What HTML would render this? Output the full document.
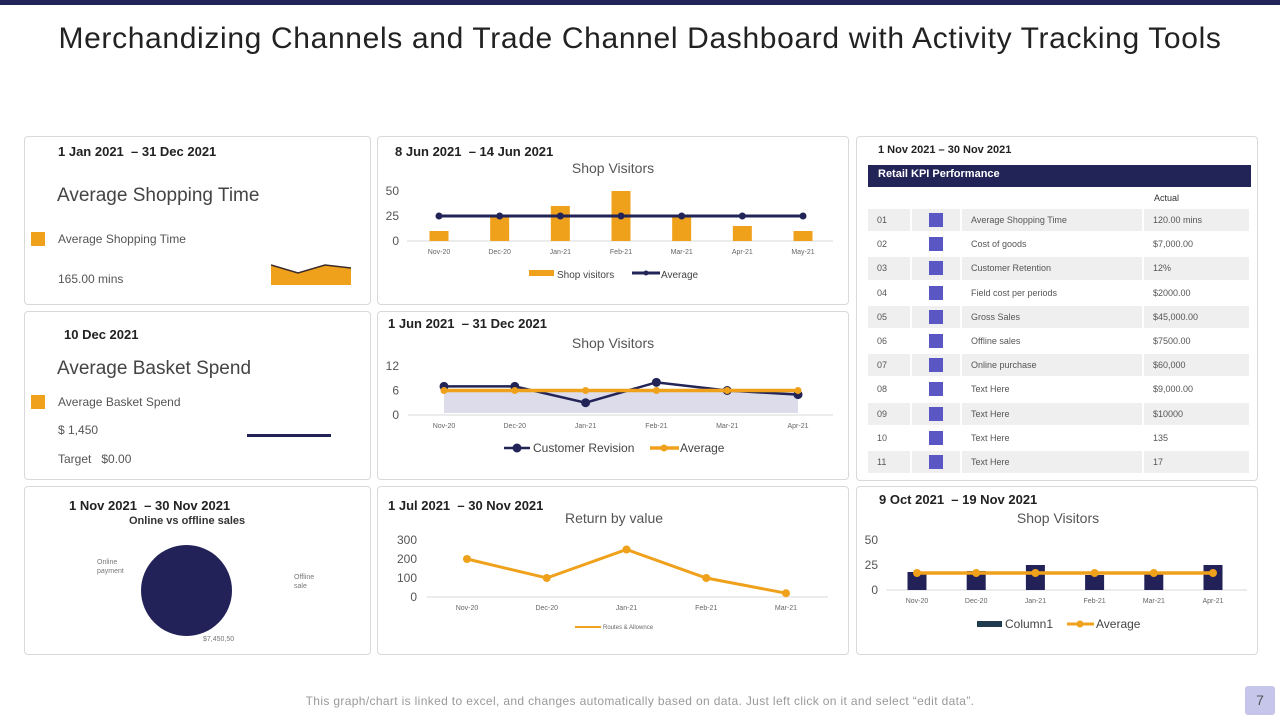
<!DOCTYPE html>
<html><head><meta charset="utf-8">
<style>
*{margin:0;padding:0;box-sizing:border-box}
body{width:1280px;height:720px;position:relative;background:#fff;font-family:"Liberation Sans",sans-serif;overflow:hidden;color:#333}
.abs{position:absolute}
.card{position:absolute;border:1px solid #d9d9d9;border-radius:4px;background:#fff}
.date{position:absolute;font-weight:bold;font-size:13px;color:#222}
.ttl{position:absolute;font-size:14px;color:#555}
table{border-collapse:separate;border-spacing:2px 2px}
</style></head><body>
<div class="abs" style="left:0;top:0;width:1280px;height:5px;background:#222457"></div>
<div class="abs" style="left:0;top:22px;width:1280px;text-align:center;font-size:30px;letter-spacing:0.65px;color:#222">Merchandizing Channels and Trade Channel Dashboard with Activity Tracking Tools</div>

<div class="card" style="left:24px;top:136px;width:347px;height:169px">
 <div class="date" style="left:33px;top:7px">1 Jan 2021 &nbsp;– 31 Dec 2021</div>
 <div class="abs" style="left:32px;top:48px;font-size:19px;color:#444">Average Shopping Time</div>
 <div class="abs" style="left:6px;top:95px;width:14px;height:14px;background:#f0a11b"></div>
 <div class="abs" style="left:33px;top:95px;font-size:12px;color:#555">Average Shopping Time</div>
 <div class="abs" style="left:33px;top:135px;font-size:12px;color:#555">165.00 mins</div>
 <svg class="abs" style="left:246px;top:126px" width="82" height="24"><polygon points="0,2 27,10 54,2 80,5 80,22 0,22" fill="#f0a11b"/><polyline points="0,2 27,10 54,2 80,5" fill="none" stroke="#3a2a2a" stroke-width="1.5"/></svg>
</div>

<div class="card" style="left:24px;top:311px;width:347px;height:169px">
 <div class="date" style="left:39px;top:15px">10 Dec 2021</div>
 <div class="abs" style="left:32px;top:46px;font-size:19px;color:#444">Average Basket Spend</div>
 <div class="abs" style="left:6px;top:83px;width:14px;height:14px;background:#f0a11b"></div>
 <div class="abs" style="left:33px;top:83px;font-size:12px;color:#555">Average Basket Spend</div>
 <div class="abs" style="left:33px;top:111px;font-size:12px;color:#555">$ 1,450</div>
 <div class="abs" style="left:33px;top:140px;font-size:12px;color:#555">Target &nbsp;&nbsp;$0.00</div>
 <div class="abs" style="left:222px;top:122px;width:84px;height:3px;background:#222457"></div>
</div>

<div class="card" style="left:24px;top:486px;width:347px;height:169px">
 <div class="date" style="left:44px;top:11px">1 Nov 2021 &nbsp;– 30 Nov 2021</div>
 <div class="abs" style="left:104px;top:28px;font-size:11px;font-weight:bold;color:#333">Online vs offline sales</div>
 <div class="abs" style="left:72px;top:71px;font-size:7px;color:#777;line-height:9px">Online<br>payment</div>
 <div class="abs" style="left:269px;top:86px;font-size:7px;color:#777;line-height:9px">Offline<br>sale</div>
 <div class="abs" style="left:116px;top:58px;width:91px;height:91px;border-radius:50%;background:#222259"></div>
 <div class="abs" style="left:178px;top:149px;font-size:7px;color:#777">$7,450,50</div>
</div>

<div class="card" style="left:377px;top:136px;width:472px;height:169px">
 <div class="date" style="left:17px;top:7px">8 Jun 2021 &nbsp;– 14 Jun 2021</div>
 <div class="ttl" style="left:0;width:470px;text-align:center;top:23px">Shop Visitors</div>
</div>
<div class="card" style="left:377px;top:311px;width:472px;height:169px">
 <div class="date" style="left:10px;top:4px">1 Jun 2021 &nbsp;– 31 Dec 2021</div>
 <div class="ttl" style="left:0;width:470px;text-align:center;top:23px">Shop Visitors</div>
</div>
<div class="card" style="left:377px;top:486px;width:472px;height:169px">
 <div class="date" style="left:10px;top:11px">1 Jul 2021 &nbsp;– 30 Nov 2021</div>
 <div class="ttl" style="left:0;width:472px;text-align:center;top:23px">Return by value</div>
</div>

<div class="card" style="left:856px;top:136px;width:402px;height:345px">
 <div class="abs" style="left:21px;top:7px;font-size:11px;font-weight:bold;color:#222">1 Nov 2021 – 30 Nov 2021</div>
 <div class="abs" style="left:11px;top:28px;width:383px;height:22px;background:#222457;color:#fff;font-size:11px;font-weight:bold;padding:3px 10px">Retail KPI Performance</div>
 <div class="abs" style="left:297px;top:56px;font-size:9px;color:#333">Actual</div>
 <table class="abs" id="kpi" style="left:9px;top:70px;font-size:9px;color:#555"></table>
</div>

<div class="card" style="left:856px;top:486px;width:402px;height:169px">
 <div class="date" style="left:22px;top:5px">9 Oct 2021 &nbsp;– 19 Nov 2021</div>
 <div class="ttl" style="left:0;width:402px;text-align:center;top:23px">Shop Visitors</div>
</div>

<div class="abs" style="left:0;width:1280px;text-align:center;top:694px;font-size:12px;letter-spacing:0.35px;color:#999">This graph/chart is linked to excel, and changes automatically based on data. Just left click on it and select “edit data”.</div>
<div class="abs" style="left:1245px;top:686px;width:30px;height:29px;background:#c5c6ea;border-radius:3px;text-align:center;line-height:29px;font-size:14px;color:#555">7</div>

<svg id="charts" class="abs" style="left:0;top:0" width="1280" height="720"></svg>

<script>
// Chart 1 data
const c1Cats = ["Nov-20","Dec-20","Jan-21","Feb-21","Mar-21","Apr-21","May-21"];
const c1Visitors = [10,25,35,50,25,15,10];
const c1Average = [25,25,25,25,25,25,25];
const c1Ticks = [0,25,50];
// Chart 2 data
const c2Cats = ["Nov-20","Dec-20","Jan-21","Feb-21","Mar-21","Apr-21"];
const c2Revision = [7,7,3,8,6,5];
const c2Average = [6,6,6,6,6,6];
const c2Ticks = [0,6,12];
// Chart 3 data
const c3Cats = ["Nov-20","Dec-20","Jan-21","Feb-21","Mar-21"];
const c3Values = [200,100,250,100,20];
const c3Ticks = [0,100,200,300];
// Chart 4 data
const c4Cats = ["Nov-20","Dec-20","Jan-21","Feb-21","Mar-21","Apr-21"];
const c4Column1 = [18,19,25,15,17,25];
const c4Average = [17,17,17,17,17,17];
const c4Ticks = [0,25,50];
// KPI table
const kpiNames = ["Average Shopping Time","Cost of goods","Customer Retention","Field cost per periods","Gross Sales","Offline sales","Online purchase","Text Here","Text Here","Text Here","Text Here"];
const kpiActual = ["120.00 mins","$7,000.00","12%","$2000.00","$45,000.00","$7500.00","$60,000","$9,000.00","$10000","135","17"];

const NS="http://www.w3.org/2000/svg";
const svg=document.getElementById('charts');
function mk(tag,attrs,parent){const e=document.createElementNS(NS,tag);for(const k in attrs)e.setAttribute(k,attrs[k]);(parent||svg).appendChild(e);return e;}
function txt(x,y,s,size,fill,anchor,parent){const t=mk('text',{x:x,y:y,'font-size':size,fill:fill,'text-anchor':anchor||'middle','font-family':'Liberation Sans, sans-serif'},parent);t.textContent=s;return t;}

function axes(cfg){
  const g=mk('g',{});
  
  
  const n=cfg.cats.length;
  const xs=i=>cfg.x0+i*(cfg.x1-cfg.x0)/(n-1);
  const ys=v=>cfg.yb-(v/cfg.max)*(cfg.yb-cfg.yt);
  mk('line',{x1:cfg.ax0,x2:cfg.ax1,y1:cfg.yb,y2:cfg.yb,stroke:'#d9d9d9','stroke-width':1},g);
  cfg.ticks.forEach(t=>{const e=txt(cfg.tx,ys(t)+4,String(t),cfg.tfs||12,'#555','end',g);});
  cfg.cats.forEach((c,i)=>{const e=txt(xs(i),cfg.yb+13,c,7,'#666','middle',g);});
  return {g,xs,ys};
}
function bars(a,vals,w,color,name){vals.forEach((v,i)=>{const r=mk('rect',{x:a.xs(i)-w/2,y:a.ys(v),width:w,height:a.ys(0)-a.ys(v),fill:color},a.g);});}
function line(a,vals,color,sw,r,name){const p=mk('polyline',{points:vals.map((v,i)=>a.xs(i)+','+a.ys(v)).join(' '),fill:'none',stroke:color,'stroke-width':sw},a.g);
  vals.forEach((v,i)=>{const c=mk('circle',{cx:a.xs(i),cy:a.ys(v),r:r,fill:color},a.g);});}

// chart 1
let a=axes({name:'chart-shop-visitors-1',cats:c1Cats,x0:439,x1:803,yb:241,yt:191,max:50,ticks:c1Ticks,tx:399,ax0:407,ax1:833});
bars(a,c1Visitors,19,'#f0a11b','bar-shop-visitors');
line(a,c1Average,'#222457',3,3.5,'average');
mk('rect',{x:529,y:270,width:25,height:6,fill:'#f0a11b'},a.g);txt(557,278,'Shop visitors',10,'#444','start',a.g);
mk('line',{x1:632,x2:660,y1:273,y2:273,stroke:'#222457','stroke-width':3},a.g);mk('circle',{cx:646,cy:273,r:2.5,fill:'#222457'},a.g);txt(661,278,'Average',10,'#444','start',a.g);

// chart 2
a=axes({name:'chart-shop-visitors-2',cats:c2Cats,x0:444,x1:798,yb:415,yt:366,max:12,ticks:c2Ticks,tx:399,ax0:408,ax1:833});
const area=mk('polygon',{points:c2Average.map((v,i)=>a.xs(i)+','+a.ys(v)).join(' ')+' '+a.xs(c2Average.length-1)+','+(a.ys(0)-2)+' '+a.xs(0)+','+(a.ys(0)-2),fill:'#dcdcea'},a.g);

line(a,c2Revision,'#222457',2.5,4.5,'customer-revision');
line(a,c2Average,'#f0a11b',3.5,3.5,'average');
mk('line',{x1:504,x2:530,y1:448,y2:448,stroke:'#222457','stroke-width':2.5},a.g);mk('circle',{cx:517,cy:448,r:4.5,fill:'#222457'},a.g);txt(533,452,'Customer Revision',12,'#444','start',a.g);
mk('line',{x1:650,x2:679,y1:448,y2:448,stroke:'#f0a11b','stroke-width':3.5},a.g);mk('circle',{cx:664,cy:448,r:3.5,fill:'#f0a11b'},a.g);txt(680,452,'Average',12,'#444','start',a.g);

// chart 3
a=axes({name:'chart-return-by-value',cats:c3Cats,x0:467,x1:786,yb:597,yt:540,max:300,ticks:c3Ticks,tx:417,ax0:427,ax1:828});
line(a,c3Values,'#f0a11b',3,4,'routes-allowance');
mk('line',{x1:575,x2:601,y1:627,y2:627,stroke:'#f0a11b','stroke-width':2},a.g);txt(603,629,'Routes & Allownce',6,'#666','start',a.g);

// chart 4
a=axes({name:'chart-shop-visitors-3',cats:c4Cats,x0:917,x1:1213,yb:590,yt:540,max:50,ticks:c4Ticks,tx:878,ax0:886,ax1:1247});
bars(a,c4Column1,19,'#222259','bar-column1');
line(a,c4Average,'#f0a11b',3.5,4,'average');
mk('rect',{x:977,y:621,width:25,height:6,fill:'#1f3b4d'},a.g);txt(1005,628,'Column1',12,'#444','start',a.g);
mk('line',{x1:1067,x2:1094,y1:624,y2:624,stroke:'#f0a11b','stroke-width':3},a.g);mk('circle',{cx:1080,cy:624,r:3.5,fill:'#f0a11b'},a.g);txt(1096,628,'Average',12,'#444','start',a.g);

// KPI table
const tb=document.getElementById('kpi');
kpiNames.forEach((n,i)=>{
  const tr=document.createElement('tr');
  
  
  const bg=i%2===0?'#efefef':'#fff';
  const cells=[String(i+1).padStart(2,'0'),'',n,kpiActual[i]];
  const widths=[42,48,180,105];
  cells.forEach((c,j)=>{const td=document.createElement('td');td.style.cssText='background:'+bg+';height:22.2px;width:'+widths[j]+'px;padding:0 0 0 '+(j===1?'0':'9px')+';vertical-align:middle';
    if(j===1){td.innerHTML='<div style="width:14px;height:14px;background:#5a56c3;margin:0 auto"></div>';}else td.textContent=c;
    tr.appendChild(td);});
  tb.appendChild(tr);
});
</script>
</body></html>
